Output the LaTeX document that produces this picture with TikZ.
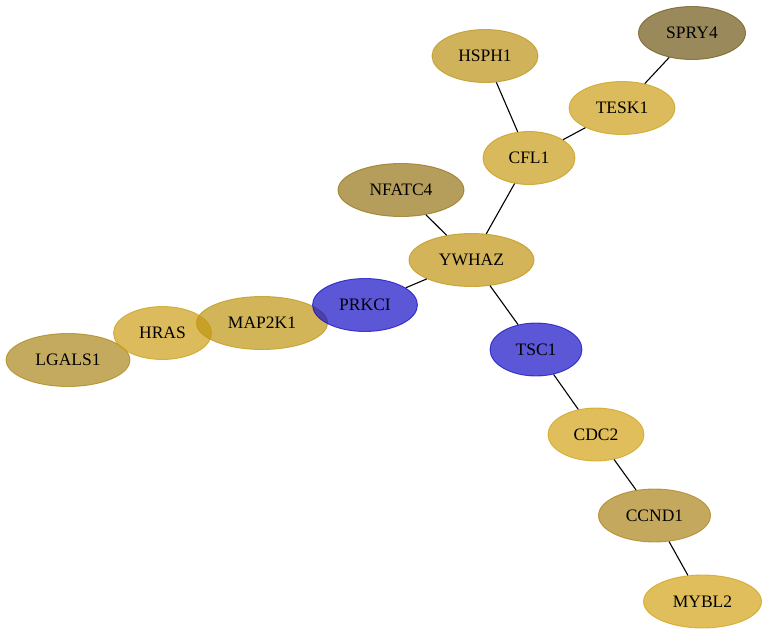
\documentclass[tikz,border=0pt]{standalone}
\usepackage{fontspec}
\setmainfont{Liberation Serif}
\usetikzlibrary{shapes.geometric}
\definecolor{cSpry}{RGB}{111,88,22}
\definecolor{cHsph}{RGB}{188,146,22}
\definecolor{cTesk}{RGB}{204,158,22}
\definecolor{cCfl}{RGB}{199,155,22}
\definecolor{cNfat}{RGB}{149,115,22}
\definecolor{cYwh}{RGB}{194,148,19}
\definecolor{cBlue}{RGB}{21,15,196}
\definecolor{cMap}{RGB}{192,149,19}
\definecolor{cHras}{RGB}{204,158,22}
\definecolor{cLgal}{RGB}{171,134,25}
\definecolor{cCdc}{RGB}{209,162,22}
\definecolor{cCcnd}{RGB}{171,131,25}
\definecolor{cMybl}{RGB}{209,162,22}
\tikzset{
  gene/.style={ellipse, inner sep=0pt, minimum height=53pt, fill opacity=0.7, draw opacity=0.75, line width=0.9pt, text opacity=1, font=\fontsize{17.5}{20}\selectfont, text=black},
  link/.style={draw=black, line width=1.1pt}
}
\begin{document}
\begin{tikzpicture}[x=1pt,y=-1pt]
\useasboundingbox (0,0) rectangle (768,635);
% edges first (clipped to node borders via named nodes)
\path
 (692,33) node[gene, minimum width=107pt, fill=cSpry, draw=cSpry] (SPRY4) {SPRY4}
 (485,56) node[gene, minimum width=106pt, fill=cHsph, draw=cHsph] (HSPH1) {HSPH1}
 (622,108) node[gene, minimum width=106pt, fill=cTesk, draw=cTesk] (TESK1) {TESK1}
 (529,158) node[gene, minimum width=92pt, fill=cCfl, draw=cCfl] (CFL1) {CFL1}
 (401,190) node[gene, minimum width=126pt, fill=cNfat, draw=cNfat] (NFATC4) {NFATC4}
 (471.5,260) node[gene, minimum width=125pt, fill=cYwh, draw=cYwh] (YWHAZ) {YWHAZ}
 (68,360) node[gene, minimum width=124pt, fill=cLgal, draw=cLgal] (LGALS1) {LGALS1}
 (162.5,333) node[gene, minimum width=98pt, fill=cHras, draw=cHras] (HRAS) {HRAS}
 (262,323) node[gene, minimum width=131pt, fill=cMap, draw=cMap] (MAP2K1) {MAP2K1}
 (365,305) node[gene, minimum width=105pt, fill=cBlue, draw=cBlue] (PRKCI) {PRKCI}
 (536,349.5) node[gene, minimum width=92pt, fill=cBlue, draw=cBlue] (TSC1) {TSC1}
 (596,434.5) node[gene, minimum width=96pt, fill=cCdc, draw=cCdc] (CDC2) {CDC2}
 (654.5,515.5) node[gene, minimum width=112pt, fill=cCcnd, draw=cCcnd] (CCND1) {CCND1}
 (702.5,601.5) node[gene, minimum width=118pt, fill=cMybl, draw=cMybl] (MYBL2) {MYBL2};
\draw[link] (SPRY4) -- (TESK1);
\draw[link] (HSPH1) -- (CFL1);
\draw[link] (TESK1) -- (CFL1);
\draw[link] (CFL1) -- (YWHAZ);
\draw[link] (NFATC4) -- (YWHAZ);
\draw[link] (YWHAZ) -- (PRKCI);
\draw[link] (YWHAZ) -- (TSC1);
\draw[link] (TSC1) -- (CDC2);
\draw[link] (CDC2) -- (CCND1);
\draw[link] (CCND1) -- (MYBL2);
\end{tikzpicture}
\end{document}
